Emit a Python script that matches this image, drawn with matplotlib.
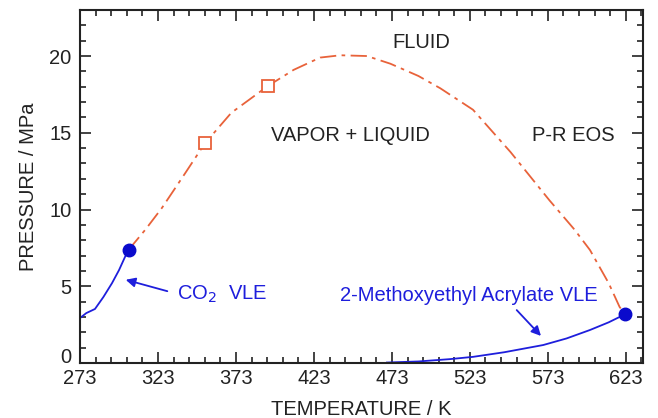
import matplotlib.pyplot as plt
from matplotlib.ticker import MultipleLocator

plt.rcParams['font.family'] = ['Liberation Sans', 'DejaVu Sans']

#------------------------------------------- Data -------------------------------------#
# CO2 vapour pressure curve (T / K, P / MPa)
co2_T = [273.0, 277.0, 282.6, 288.0, 293.5, 298.0, 301.8, 304.2]
co2_P = [2.93, 3.25, 3.52, 4.30, 5.20, 6.05, 6.90, 7.38]

# 2-Methoxyethyl acrylate vapour pressure curve
mea_T = [469.8, 490.0, 510.0, 525.0, 545.0, 570.0, 585.0, 600.0, 612.0, 619.0, 622.4]
mea_P = [0.03, 0.10, 0.25, 0.40, 0.70, 1.17, 1.60, 2.15, 2.65, 3.00, 3.20]

# Peng-Robinson mixture critical line
crit_T = [304.2, 315.0, 325.5, 340.0, 353.0, 370.0, 393.5, 410.0, 427.0, 440.0, 457.0,
          472.0, 490.0, 504.0, 525.0, 549.0, 574.0, 590.0, 600.0, 612.0, 619.0, 622.4]
crit_P = [7.38, 8.70, 10.10, 12.30, 14.30, 16.30, 18.05, 19.10, 19.90, 20.05, 20.00,
          19.50, 18.70, 17.90, 16.50, 13.75, 10.60, 8.70, 7.36, 5.20, 3.65, 3.20]

# experimental mixture critical points
exp_T = [353.1, 393.5]
exp_P = [14.33, 18.05]

# pure component critical points
pc_T = [304.2, 622.4]
pc_P = [7.38, 3.20]

#--------------------------------------------- Plot -----------------------------------#
fig = plt.figure(figsize=(6.58, 4.18), dpi=100)
ax = fig.add_axes([0.1216, 0.1316, 0.8556, 0.8445])

orange = '#E8623A'
blue = '#1E1EDC'
dark = '#222222'
fs = 14.5

ax.plot(crit_T, crit_P, color=orange, lw=1.3, dashes=(9, 3, 2, 3))
ax.plot(co2_T, co2_P, color=blue, lw=1.3)
ax.plot(mea_T, mea_P, color=blue, lw=1.3)
ax.plot(exp_T, exp_P, ls='', marker='s', ms=9, mfc='white', mec=orange, mew=1.3)
ax.plot(pc_T, pc_P, ls='', marker='o', ms=9, color='#0A0ACC')

ax.set_xlim(273, 634)
ax.set_ylim(0, 23)
ax.xaxis.set_major_locator(MultipleLocator(50, offset=23))
ax.xaxis.set_minor_locator(MultipleLocator(10, offset=3))
ax.yaxis.set_major_locator(MultipleLocator(5))
ax.yaxis.set_minor_locator(MultipleLocator(1))
ax.tick_params(which='both', direction='in', top=True, right=True,
               labelsize=fs, colors=dark, width=1.2)
ax.tick_params(axis='x', pad=4)
ax.tick_params(axis='y', pad=6)
ax.tick_params(which='major', length=8)
ax.tick_params(which='minor', length=4.5)
for s in ax.spines.values():
    s.set_linewidth(1.5)
    s.set_color(dark)

ax.set_xlabel('TEMPERATURE / K', fontsize=fs, color=dark, labelpad=9)
ax.set_ylabel('PRESSURE / MPa', fontsize=fs, color=dark, labelpad=8)

ax.text(492, 20.9, 'FLUID', fontsize=fs, ha='center', va='center', color=dark)
ax.text(446.7, 14.85, 'VAPOR + LIQUID', fontsize=fs, ha='center', va='center', color=dark)
ax.text(589, 14.85, 'P-R EOS', fontsize=fs, ha='center', va='center', color=dark)

ax.text(335, 4.5, r'CO$_2$  VLE', fontsize=fs, ha='left', va='center', color=blue)
ax.annotate('', xy=(300.6, 5.47), xytext=(330.7, 4.63),
            arrowprops=dict(arrowstyle='-|>', color=blue, lw=1.3, mutation_scale=14))
ax.text(439.7, 4.43, '2-Methoxyethyl Acrylate VLE', fontsize=fs, ha='left', va='center', color=blue)
ax.annotate('', xy=(569.8, 1.63), xytext=(551.8, 3.58),
            arrowprops=dict(arrowstyle='-|>', color=blue, lw=1.3, mutation_scale=14))

# lift the "0" label so it sits just above "273"
fig.canvas.draw()
for t in ax.yaxis.get_major_ticks():
    if abs(t.get_loc()) < 1e-9:
        t.label1.set_verticalalignment('baseline')

fig.savefig('out.png', dpi=100)
